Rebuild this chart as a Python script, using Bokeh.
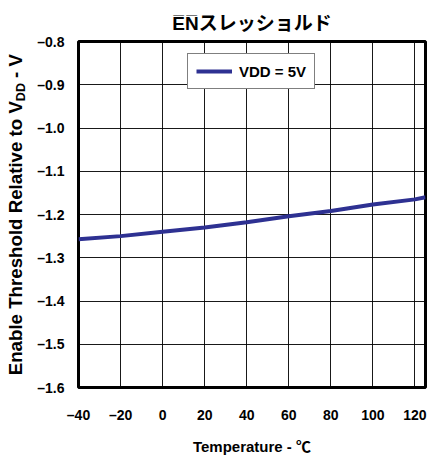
from bokeh.plotting import figure
from bokeh.models import Range1d, FixedTicker, Legend, LegendItem, Div
from bokeh.layouts import row
from bokeh.embed import file_html
from bokeh.resources import INLINE

# ---- data ----
temperature = [-40, -20, 0, 20, 40, 60, 80, 100, 120, 125]
threshold_5v = [-1.257, -1.250, -1.240, -1.230, -1.218, -1.204, -1.192, -1.177, -1.165, -1.160]
series_label = "VDD = 5V"
x_ticks = [-40, -20, 0, 20, 40, 60, 80, 100, 120]
y_ticks = [-0.8, -0.9, -1.0, -1.1, -1.2, -1.3, -1.4, -1.5, -1.6]
title_text = "E\u0305N\u0305スレッショルド"
x_label = "Temperature - ℃"
y_label_main = "Enable Threshold Relative to V"
y_label_sub = "DD"
y_label_tail = " - V"

FONT = "'Liberation Sans', 'Noto Sans CJK JP', sans-serif"
LINE_COLOR = "#2E3192"

LABEL_W = 34

p = figure(width=433 - LABEL_W, height=457, output_backend="svg", toolbar_location=None,
           x_range=Range1d(-40, 125), y_range=Range1d(-1.6, -0.8),
           min_border_left=75 - LABEL_W, min_border_right=8, min_border_top=41,
           min_border_bottom=68)

p.title.text = title_text
p.title.align = "center"
p.title.text_font = FONT
p.title.text_font_size = "19px"
p.title.text_font_style = "bold"
p.title.text_color = "black"
p.title.standoff = 15

p.outline_line_color = "black"
p.outline_line_width = 3

p.xaxis.ticker = FixedTicker(ticks=x_ticks)
p.yaxis.ticker = FixedTicker(ticks=y_ticks)
p.xaxis.major_label_overrides = {t: str(t).replace("-", "–") for t in x_ticks}
p.yaxis.major_label_overrides = {t: f"{t:.1f}".replace("-", "–") for t in y_ticks}
for ax in (p.xaxis, p.yaxis):
    ax.axis_line_color = None
    ax.major_tick_line_color = None
    ax.minor_tick_line_color = None
    ax.major_label_text_font = FONT
    ax.major_label_text_font_style = "bold"
    ax.major_label_text_font_size = "14px"
    ax.major_label_text_color = "black"
p.xaxis.major_label_standoff = 13
p.yaxis.major_label_standoff = 8

p.xaxis.axis_label = x_label
p.xaxis.axis_label_text_font = FONT
p.xaxis.axis_label_text_font_size = "15px"
p.xaxis.axis_label_text_font_style = "bold"
p.xaxis.axis_label_text_color = "black"
p.xaxis.axis_label_standoff = 12

for g in (p.xgrid, p.ygrid):
    g.grid_line_color = "black"
    g.grid_line_width = 1
    g.grid_line_alpha = 0.9
p.xgrid.ticker = FixedTicker(ticks=x_ticks)
p.ygrid.ticker = FixedTicker(ticks=y_ticks)

r = p.line(temperature, threshold_5v, line_color=LINE_COLOR, line_width=4)

legend = Legend(items=[LegendItem(label=series_label, renderers=[r])],
                location=(109, 298),
                border_line_color="black", border_line_width=1.5,
                label_text_font=FONT, label_text_font_style="bold",
                label_text_font_size="15px", label_text_color="black",
                glyph_width=36, glyph_height=18, label_standoff=7,
                padding=8, margin=0, spacing=0, background_fill_alpha=1)
p.add_layout(legend, "center")

# rotated y-axis label with a real subscript
ylabel_html = (
    f'<div style="width:{LABEL_W}px;height:429px;display:flex;align-items:center;'
    'justify-content:center;background:white;">'
    '<span style="writing-mode:vertical-rl;transform:rotate(180deg);white-space:pre;'
    "font-family:'Liberation Sans',Arial,sans-serif;font-weight:bold;font-size:18.7px;"
    'color:black;line-height:1;">'
    f'{y_label_main}<sub style="font-size:12.5px;">{y_label_sub}</sub>{y_label_tail}'
    '</span></div>'
)
ylabel_div = Div(text=ylabel_html, width=LABEL_W, height=457, margin=0,
                 styles={"background-color": "white"})

layout = row(ylabel_div, p, spacing=0)

open("out.html", "w").write(file_html(layout, INLINE))
